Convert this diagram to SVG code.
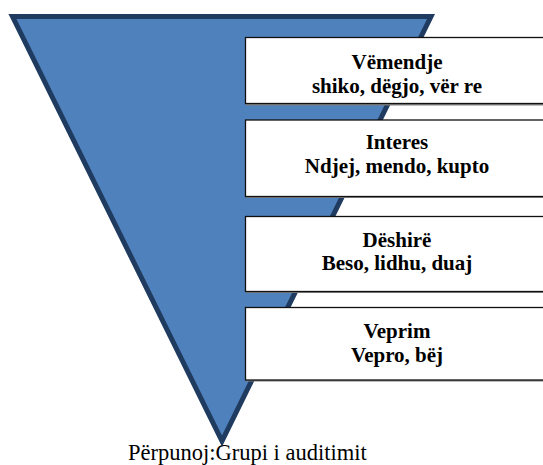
<svg xmlns="http://www.w3.org/2000/svg" width="543" height="465" viewBox="0 0 543 465">
<style>
.box{fill:#ffffff;stroke:#111111;stroke-width:1.3}
.shadow{fill:#7f7f7f}
.t{font-family:"Liberation Serif","Times New Roman",serif;font-weight:bold;font-size:21px;fill:#000;text-anchor:middle}
.cap{font-family:"Liberation Serif","Times New Roman",serif;font-size:22.5px;fill:#000}
</style>
<g id="funnel">
<polygon points="12.5,16.5 431,16.5 222,441" fill="#4f81bd" stroke="#1f3b60" stroke-width="5" stroke-linejoin="miter"/>
</g>
<g id="connectors"></g>
<g id="node1">
<rect class="shadow" x="246" y="38.5" width="310" height="67"/>
<rect class="box" x="245.5" y="37.5" width="310" height="66"/>
<text class="t" x="397" y="69">Vëmendje</text>
<text class="t" x="397" y="93">shiko, dëgjo, vër re</text>
</g>
<g id="node2">
<rect class="shadow" x="246" y="121" width="310" height="77"/>
<rect class="box" x="245.5" y="120" width="310" height="76.5"/>
<text class="t" x="397" y="149">Interes</text>
<text class="t" x="397" y="172.5">Ndjej, mendo, kupto</text>
</g>
<g id="node3">
<rect class="shadow" x="246" y="217.5" width="310" height="75.5"/>
<rect class="box" x="245.5" y="216.5" width="310" height="75"/>
<text class="t" x="397" y="247">Dëshirë</text>
<text class="t" x="397" y="270">Beso, lidhu, duaj</text>
</g>
<g id="node4">
<rect class="shadow" x="246" y="308.5" width="310" height="73"/>
<rect class="box" x="245.5" y="307.5" width="310" height="72.5"/>
<text class="t" x="397" y="338">Veprim</text>
<text class="t" x="397" y="361.5">Vepro, bëj</text>
</g>
<text class="cap" x="128" y="460">Përpunoj:Grupi i auditimit</text>
</svg>
